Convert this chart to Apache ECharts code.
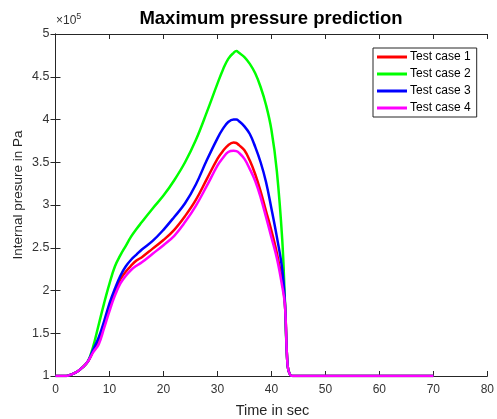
<!DOCTYPE html>
<html>
<head>
<meta charset="utf-8">
<script src="https://cdn.jsdelivr.net/npm/echarts@6/dist/echarts.min.js"></script>
<style>html,body{margin:0;padding:0;background:#fff}#c{width:497px;height:419px}</style>
</head>
<body>
<div id="c"></div>
<script>
// Values in units of 1e5 Pa
var seriesNames = ['Test case 1', 'Test case 2', 'Test case 3', 'Test case 4'];
var xTicks = [0, 10, 20, 30, 40, 50, 60, 70, 80];
var yTicks = [1, 1.5, 2, 2.5, 3, 3.5, 4, 4.5, 5];

var time = [0,1,2,3,4,5,6,7,8,9,10,11,12,13,14,15,16,18,20,22,24,26,28,30,31,32,33,33.5,34,35,36,37,38,39,40,41,42,42.5,43,43.5,44,70];
var case1 = [1,1,1,1.02,1.05,1.10,1.17,1.29,1.40,1.60,1.80,1.99,2.13,2.22,2.29,2.35,2.39,2.49,2.59,2.71,2.87,3.06,3.30,3.54,3.63,3.70,3.73,3.725,3.70,3.64,3.52,3.36,3.16,2.93,2.70,2.44,2.10,1.85,1.12,1.01,1,1];
var case2 = [1,1,1,1.02,1.05,1.10,1.17,1.35,1.60,1.85,2.08,2.28,2.41,2.52,2.63,2.72,2.80,2.96,3.11,3.29,3.50,3.76,4.08,4.42,4.58,4.71,4.78,4.80,4.78,4.73,4.65,4.54,4.38,4.17,3.88,3.40,2.60,1.88,1.12,1.01,1,1];
var case3 = [1,1,1,1.02,1.05,1.10,1.17,1.31,1.45,1.64,1.85,2.02,2.17,2.28,2.36,2.42,2.48,2.58,2.71,2.86,3.02,3.24,3.52,3.78,3.89,3.97,4.0,4.0,3.98,3.92,3.83,3.68,3.50,3.27,2.96,2.63,2.25,1.86,1.12,1.01,1,1];
var case4 = [1,1,1,1.02,1.05,1.10,1.17,1.28,1.37,1.56,1.76,1.94,2.08,2.17,2.24,2.29,2.33,2.43,2.53,2.64,2.80,2.99,3.22,3.46,3.55,3.62,3.635,3.63,3.61,3.54,3.42,3.28,3.09,2.86,2.62,2.38,2.05,1.83,1.12,1.01,1,1];

var colors = ['#ff0000', '#00ff00', '#0000ff', '#ff00ff'];

function pairs(t, v) { return t.map(function (x, i) { return [x, v[i]]; }); }
var allData = [pairs(time, case1), pairs(time, case2), pairs(time, case3), pairs(time, case4)];

var FONT = '"Liberation Sans", Arial, sans-serif';
var axisColor = '#262626';
var grid = {left: 55.5, right: 9, top: 34, bottom: 43};

var chart = echarts.init(document.getElementById('c'), null, {renderer: 'canvas'});
var mirrorAxis = {
  show: true,
  axisLine: {show: true, lineStyle: {color: axisColor, width: 1}},
  axisTick: {show: true, inside: true, length: 5, lineStyle: {color: axisColor}},
  axisLabel: {show: false},
  splitLine: {show: false}
};
chart.setOption({
  animation: false,
  backgroundColor: '#fff',
  grid: grid,
  xAxis: [
    {type: 'value', min: xTicks[0], max: xTicks[xTicks.length - 1], interval: 10, position: 'bottom',
     axisLine: {show: true, onZero: false, lineStyle: {color: axisColor, width: 1}},
     axisTick: {show: true, inside: true, length: 5, lineStyle: {color: axisColor}},
     axisLabel: {color: '#333', fontSize: 12, fontFamily: FONT, margin: 8},
     splitLine: {show: false}},
    Object.assign({type: 'value', min: 0, max: 80, interval: 10, position: 'top'}, mirrorAxis)
  ],
  yAxis: [
    {type: 'value', min: yTicks[0], max: yTicks[yTicks.length - 1], interval: 0.5, position: 'left',
     axisLine: {show: true, onZero: false, lineStyle: {color: axisColor, width: 1}},
     axisTick: {show: true, inside: true, length: 5, lineStyle: {color: axisColor}},
     axisLabel: {color: '#333', fontSize: 12.5, fontFamily: FONT, margin: 6,
                 formatter: function (v) { return String(v); }},
     splitLine: {show: false}},
    Object.assign({type: 'value', min: 1, max: 5, interval: 0.5, position: 'right'}, mirrorAxis)
  ],
  legend: {
    orient: 'vertical', left: 373, top: 48,
    data: seriesNames,
    icon: 'rect', itemWidth: 30, itemHeight: 3, itemGap: 3,
    padding: [2, 6, 2, 4],
    borderColor: '#262626', borderWidth: 1, backgroundColor: '#fff',
    textStyle: {color: '#000', fontSize: 12, fontFamily: FONT, lineHeight: 14, padding: [0, 0, 0, -2]}
  },
  graphic: [
    {type: 'text', x: 271, y: 19, style: {text: 'Maximum pressure prediction', fontSize: 18.5, fontWeight: 'bold', fontFamily: FONT, fill: '#000', textAlign: 'center', textVerticalAlign: 'middle'}},
    {type: 'text', x: 272.5, y: 411, style: {text: 'Time in sec', fontSize: 14.5, fontFamily: FONT, fill: '#262626', textAlign: 'center', textVerticalAlign: 'middle'}},
    {type: 'text', x: 18, y: 195, rotation: Math.PI / 2, style: {text: 'Internal presure in Pa', fontSize: 13.5, fontFamily: FONT, fill: '#262626', textAlign: 'center', textVerticalAlign: 'middle'}},
    {type: 'text', x: 56, y: 29, style: {text: '×10{s|5}', rich: {s: {fontSize: 9, fontFamily: FONT, fill: '#333', verticalAlign: 'top', padding: [0, 0, 8, 0]}}, fontSize: 12, fontFamily: FONT, fill: '#333', textVerticalAlign: 'bottom'}}
  ],
  series: allData.map(function (d, i) {
    return {
      name: seriesNames[i], type: 'line', data: d, xAxisIndex: 0, yAxisIndex: 0,
      showSymbol: false, smooth: 0.4,
      lineStyle: {color: colors[i], width: 2.5},
      itemStyle: {color: colors[i]}
    };
  })
});
</script>
</body>
</html>
